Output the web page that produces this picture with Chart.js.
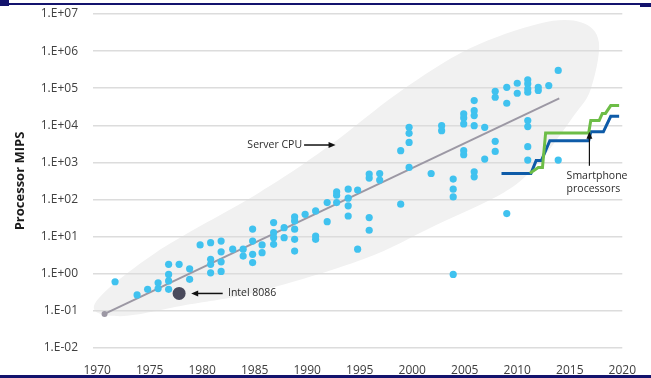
<!DOCTYPE html>
<html>
<head>
<meta charset="utf-8">
<script src="https://cdn.jsdelivr.net/npm/chart.js@4.4.0/dist/chart.umd.min.js"></script>
<style>
  html, body { margin: 0; padding: 0; background: #fff; }
  #wrap { position: relative; width: 651px; height: 378px; overflow: hidden; }
  #chart { position: absolute; left: 0; top: 0; }
  .bar { position: absolute; background: #13136d; }
</style>
</head>
<body>
<div id="wrap">
  <canvas id="chart" width="651" height="378"></canvas>
  <div class="bar" style="left:0;top:0;width:9px;height:6px"></div>
  <div class="bar" style="left:0;top:3px;width:651px;height:2px"></div>
  <div class="bar" style="left:640px;top:3px;width:11px;height:4px"></div>
  <div class="bar" style="left:0;top:375px;width:651px;height:3px"></div>
</div>
<script>
// Server CPU scatter (year, MIPS)
const cpuYears = [
  1971.7, 1973.8, 1974.8, 1975.8, 1975.8, 1976.8, 1976.8, 1976.8, 1976.8, 1977.8,
  1978.8, 1978.8, 1979.8, 1980.8, 1980.8, 1980.8, 1980.8, 1981.8, 1981.8, 1981.8,
  1981.8, 1982.9, 1983.9, 1983.9, 1984.8, 1984.8, 1984.8, 1984.8, 1985.7, 1985.7,
  1986.8, 1986.8, 1986.8, 1986.8, 1987.8, 1987.8, 1988.8, 1988.8, 1988.8, 1988.8,
  1988.8, 1989.8, 1990.8, 1990.8, 1990.8, 1991.9, 1991.9, 1992.8, 1992.8, 1992.8,
  1993.9, 1993.9, 1993.9, 1993.9, 1994.8, 1994.8, 1995.9, 1995.9, 1995.9, 1995.9,
  1996.9, 1996.9, 1998.9, 1998.9, 1999.7, 1999.7, 1999.7, 1999.7, 2001.8, 2002.8,
  2002.8, 2003.9, 2003.9, 2003.9, 2003.9, 2004.9, 2004.9, 2004.9, 2004.9, 2004.9,
  2005.9, 2005.9, 2005.9, 2005.9, 2005.9, 2005.9, 2006.9, 2006.9, 2007.9, 2007.9,
  2007.9, 2007.9, 2009.0, 2009.0, 2009.0, 2010.0, 2010.0, 2011.0, 2011.0, 2011.0,
  2011.0, 2011.0, 2011.0, 2011.0, 2011.0, 2012.0, 2012.0, 2013.0, 2013.9, 2013.9
];
const cpuMips = [
  0.61, 0.27, 0.38, 0.57, 0.40, 1.8, 0.96, 0.64, 0.38, 1.8,
  1.36, 0.71, 6.0, 6.9, 2.45, 1.8, 1.06, 7.6, 3.9, 2.1,
  1.16, 4.6, 4.6, 3.0, 16, 7.6, 3.35, 2.0, 6.0, 3.7,
  24, 12.8, 9.4, 6.2, 17.5, 9.4, 34, 26.6, 15.9, 8.5,
  4.1, 40, 49.5, 10.4, 8.5, 83, 25.4, 161, 131, 83,
  191, 109, 67.6, 36, 180, 4.6, 32.6, 14.9, 486, 379,
  504, 334, 75, 2070, 733, 8830, 6080, 3470, 504, 9810,
  7190, 356, 191, 118, 0.96, 20300, 15850, 10900, 2070, 1610,
  46500, 24900, 18300, 9810, 561, 411, 8830, 1236, 83000, 57100,
  3700, 1980, 106000, 39300, 41.9, 136000, 73300, 169000, 131000, 96300,
  78000, 13400, 9230, 2660, 1160, 106000, 86700, 118000, 301000, 1160
];

// Intel 8086
const intelYear = [1977.8];
const intelMips = [0.295];

// Server CPU trend line
const trendYears = [1970.7, 2014.0];
const trendMips = [0.083, 53000];

// Smartphone processors (two step series)
const blueYears = [2008.5, 2011.3, 2011.8, 2012.3, 2013.1, 2016.8, 2017.0, 2018.2, 2018.9, 2019.7];
const blueMips = [500, 500, 1130, 1130, 3870, 3870, 6700, 6700, 17500, 17500];
const greenYears = [2011.2, 2012.0, 2012.4, 2012.7, 2016.8, 2017.0, 2017.8, 2018.1, 2018.4, 2018.9, 2019.7];
const greenMips = [515, 730, 730, 6240, 6240, 13400, 13400, 21000, 21000, 34000, 34000];

// Grey envelope around the server CPU cloud (outline, clockwise)
const envelopeYears = [1969.8, 1975.5, 1985.45, 1992.1, 1998.75, 2005.4, 2012.05, 2016.04, 2017.77,
  2017.0, 2015.38, 2012.05, 2008.73, 2002.08, 1995.38, 1985.45, 1978.82, 1972.17];
const envelopeMips = [0.16, 3.6, 155, 2800, 78000, 1.15e6, 5.5e6, 6.0e6, 1.74e6,
  95000, 18000, 1000, 155, 19.5, 2.5, 0.34, 0.15, 0.072];

const xTickValues = [1970, 1975, 1980, 1985, 1990, 1995, 2000, 2005, 2010, 2015, 2020];
const yTickValues = [1e-2, 1e-1, 1, 1e1, 1e2, 1e3, 1e4, 1e5, 1e6, 1e7];
const yTickLabels = ['1.E-02', '1.E-01', '1.E+00', '1.E+01', '1.E+02', '1.E+03', '1.E+04', '1.E+05', '1.E+06', '1.E+07'];

const toPoints = (xs, ys) => xs.map((x, i) => ({ x: x, y: ys[i] }));

// Draws the light grey envelope behind grid and marks
const envelopePlugin = {
    id: 'envelope',
    beforeDraw(chart) {
        const { ctx, scales: { x, y } } = chart;
        const pts = envelopeYears.map((yr, i) => ({ x: x.getPixelForValue(yr), y: y.getPixelForValue(envelopeMips[i]) }));
        const n = pts.length;
        ctx.save();
        ctx.beginPath();
        ctx.moveTo(pts[0].x, pts[0].y);
        for (let i = 0; i < n; i++) {
            const p0 = pts[(i - 1 + n) % n], p1 = pts[i], p2 = pts[(i + 1) % n], p3 = pts[(i + 2) % n];
            ctx.bezierCurveTo(
                p1.x + (p2.x - p0.x) / 6, p1.y + (p2.y - p0.y) / 6,
                p2.x - (p3.x - p1.x) / 6, p2.y - (p3.y - p1.y) / 6,
                p2.x, p2.y);
        }
        ctx.closePath();
        ctx.fillStyle = '#f1f1f1';
        ctx.fill();
        ctx.restore();
    }
};

// Labels and arrows
function arrow(ctx, x1, y1, x2, y2) {
    const ang = Math.atan2(y2 - y1, x2 - x1);
    const len = 7, half = 3;
    ctx.beginPath();
    ctx.moveTo(x1, y1);
    ctx.lineTo(x2 - Math.cos(ang) * len * 0.8, y2 - Math.sin(ang) * len * 0.8);
    ctx.stroke();
    ctx.beginPath();
    ctx.moveTo(x2, y2);
    ctx.lineTo(x2 - Math.cos(ang) * len - Math.sin(ang) * half, y2 - Math.sin(ang) * len + Math.cos(ang) * half);
    ctx.lineTo(x2 - Math.cos(ang) * len + Math.sin(ang) * half, y2 - Math.sin(ang) * len - Math.cos(ang) * half);
    ctx.closePath();
    ctx.fill();
}

const notesPlugin = {
    id: 'notes',
    afterDatasetsDraw(chart) {
        const { ctx, scales: { x, y } } = chart;
        const px = v => x.getPixelForValue(v);
        const py = v => y.getPixelForValue(v);
        ctx.save();
        ctx.fillStyle = '#2b2b2b';
        ctx.strokeStyle = '#111';
        ctx.lineWidth = 1.5;
        ctx.font = '10.5px "Open Sans"';
        ctx.textAlign = 'left';
        ctx.textBaseline = 'middle';

        ctx.fillText('Server CPU', px(1984.3), py(2950));
        ctx.fillStyle = '#111';
        arrow(ctx, px(1989.7), py(2950), px(1992.7), py(2950));

        ctx.fillStyle = '#2b2b2b';
        ctx.fillText('Intel 8086', px(1982.45), py(0.295));
        ctx.fillStyle = '#111';
        arrow(ctx, px(1981.95), py(0.295), px(1978.95), py(0.295));

        ctx.fillStyle = '#2b2b2b';
        ctx.fillText('Smartphone', px(2014.7), py(437));
        ctx.fillText('processors', px(2014.7), py(195));
        ctx.fillStyle = '#111';
        ctx.lineWidth = 1.2;
        arrow(ctx, px(2016.87), py(813), px(2016.87), py(6760));
        ctx.restore();
    }
};

const tickFont = { family: '"Open Sans"', size: 12 };

new Chart(document.getElementById('chart'), {
    type: 'scatter',
    data: {
        datasets: [
            {
                label: 'Intel 8086',
                data: toPoints(intelYear, intelMips),
                backgroundColor: '#4a4a5c',
                borderWidth: 0,
                pointRadius: 6.5,
                order: 0
            },
            {
                label: 'Server CPU',
                data: toPoints(cpuYears, cpuMips),
                backgroundColor: '#40c2ef',
                borderWidth: 0,
                pointRadius: 3.6,
                order: 1
            },
            {
                type: 'line',
                label: 'Smartphone (green)',
                data: toPoints(greenYears, greenMips),
                borderColor: '#6dbd47',
                borderWidth: 3,
                pointRadius: 0,
                tension: 0,
                fill: false,
                order: 2
            },
            {
                type: 'line',
                label: 'Smartphone (blue)',
                data: toPoints(blueYears, blueMips),
                borderColor: '#0e5ba8',
                borderWidth: 3,
                pointRadius: 0,
                tension: 0,
                fill: false,
                order: 3
            },
            {
                type: 'line',
                label: 'Trend',
                data: toPoints(trendYears, trendMips),
                borderColor: '#9c98a4',
                borderWidth: 2,
                pointRadius: [3, 0],
                pointBackgroundColor: '#9c98a4',
                pointBorderWidth: 0,
                tension: 0,
                fill: false,
                order: 4
            }
        ]
    },
    options: {
        responsive: false,
        animation: false,
        layout: { padding: { left: 0, right: 28, top: 14, bottom: 0 } },
        plugins: {
            legend: { display: false },
            tooltip: { enabled: false }
        },
        scales: {
            x: {
                type: 'linear',
                min: 1969.6,
                max: 2020,
                afterBuildTicks: s => { s.ticks = xTickValues.map(v => ({ value: v })); },
                afterFit: s => { s.height = 30; },
                grid: { display: false, drawTicks: false },
                border: { display: false },
                ticks: {
                    padding: 15,
                    color: '#404040',
                    font: tickFont,
                    autoSkip: false,
                    maxRotation: 0,
                    callback: v => String(v)
                }
            },
            y: {
                type: 'logarithmic',
                min: 1e-2,
                max: 1e7,
                afterBuildTicks: s => { s.ticks = yTickValues.map(v => ({ value: v })); },
                afterFit: s => {
                    s.width = 93;
                    s.paddingTop = 6;
                    s.paddingBottom = 6;
                },
                grid: { color: '#dcdcdc', lineWidth: 1.5, drawTicks: false },
                border: { display: false },
                ticks: {
                    padding: 15,
                    color: '#404040',
                    font: tickFont,
                    autoSkip: false,
                    callback: v => yTickLabels[yTickValues.indexOf(v)]
                },
                title: {
                    display: true,
                    text: 'Processor MIPS',
                    color: '#1a1a1a',
                    font: { family: '"Open Sans"', size: 13, weight: 'bold' },
                    padding: { top: 12, bottom: 0 }
                }
            }
        }
    },
    plugins: [envelopePlugin, notesPlugin]
});
</script>
</body>
</html>
